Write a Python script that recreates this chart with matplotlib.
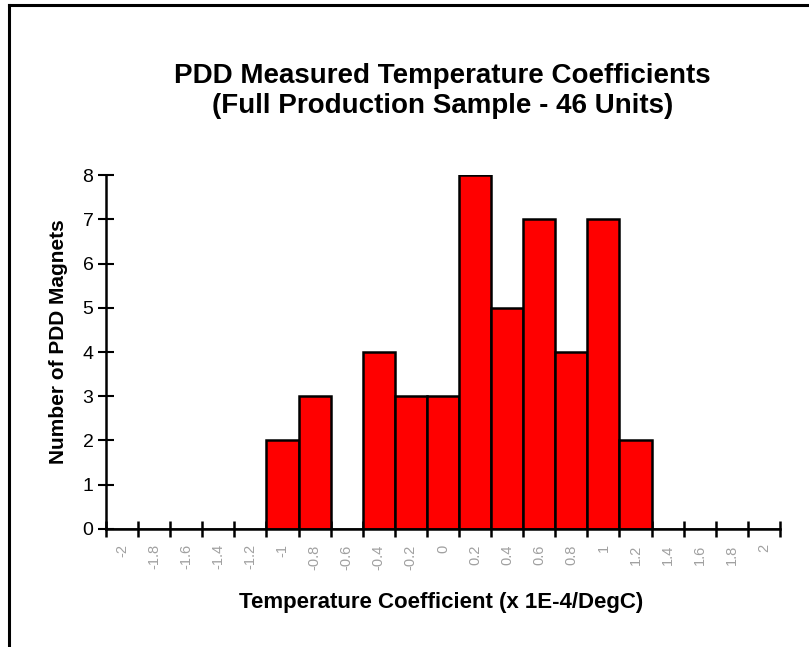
import matplotlib
matplotlib.use('Agg')
import matplotlib.pyplot as plt
from matplotlib.lines import Line2D
import numpy as np

plt.rcParams['font.family'] = ['Liberation Sans', 'DejaVu Sans']

# temperature coefficient bins (x 1E-4/DegC) and unit counts
bins = ['-2', '-1.8', '-1.6', '-1.4', '-1.2', '-1', '-0.8', '-0.6', '-0.4', '-0.2', '0',
        '0.2', '0.4', '0.6', '0.8', '1', '1.2', '1.4', '1.6', '1.8', '2']
counts = [0, 0, 0, 0, 0, 2, 3, 0, 4, 3, 3, 8, 5, 7, 4, 7, 2, 0, 0, 0, 0]

fig = plt.figure(figsize=(8.09, 6.47), dpi=100)
ax = fig.add_axes([0.131, 0.1824, 0.833, 0.5471])

pos = np.arange(len(bins))
ax.bar(pos, counts, width=1.0, color='#ff0000', edgecolor='black', linewidth=1.8, zorder=2)

ax.set_xlim(-0.5, len(bins) - 0.5)
ax.set_ylim(0, 8)

# ticks sit on the bin edges, labels in the bin centres
ax.set_xticks(np.arange(len(bins) + 1) - 0.5)
ax.set_xticklabels([])
ax.set_xticks(pos, minor=True)
ax.set_xticklabels(bins, minor=True, rotation=90, fontsize=10.5, color='#a0a0a0')
ax.tick_params(axis='x', which='major', direction='inout', length=12, width=1.8)
ax.tick_params(axis='x', which='minor', length=0, pad=11)

ax.set_yticks(range(0, 9))
ax.tick_params(axis='y', direction='inout', length=12, width=1.5, labelsize=14, pad=3)

for s in ['top', 'right']:
    ax.spines[s].set_visible(False)
for s in ['left', 'bottom']:
    ax.spines[s].set_linewidth(1.8)

ax.set_ylabel('Number of PDD Magnets', fontsize=15, fontweight='bold', va='center')
ax.yaxis.set_label_coords(-0.071, 0.53)
ax.set_xlabel('Temperature Coefficient (x 1E-4/DegC)', fontsize=16, fontweight='bold', va='center')
ax.xaxis.set_label_coords(0.497, -0.209)

fig.text(0.547, 0.883, 'PDD Measured Temperature Coefficients', ha='center', va='center',
         fontsize=20, fontweight='bold')
fig.text(0.547, 0.836, '(Full Production Sample - 46 Units)', ha='center', va='center',
         fontsize=20, fontweight='bold')

# chart frame (cut off at right and bottom)
fig.add_artist(Line2D([0.011, 1.0], [0.992, 0.992], color='black', linewidth=2.2, transform=fig.transFigure))
fig.add_artist(Line2D([0.011, 0.011], [0.0, 0.992], color='black', linewidth=2.2, transform=fig.transFigure))

fig.savefig('out.png', dpi=100)
